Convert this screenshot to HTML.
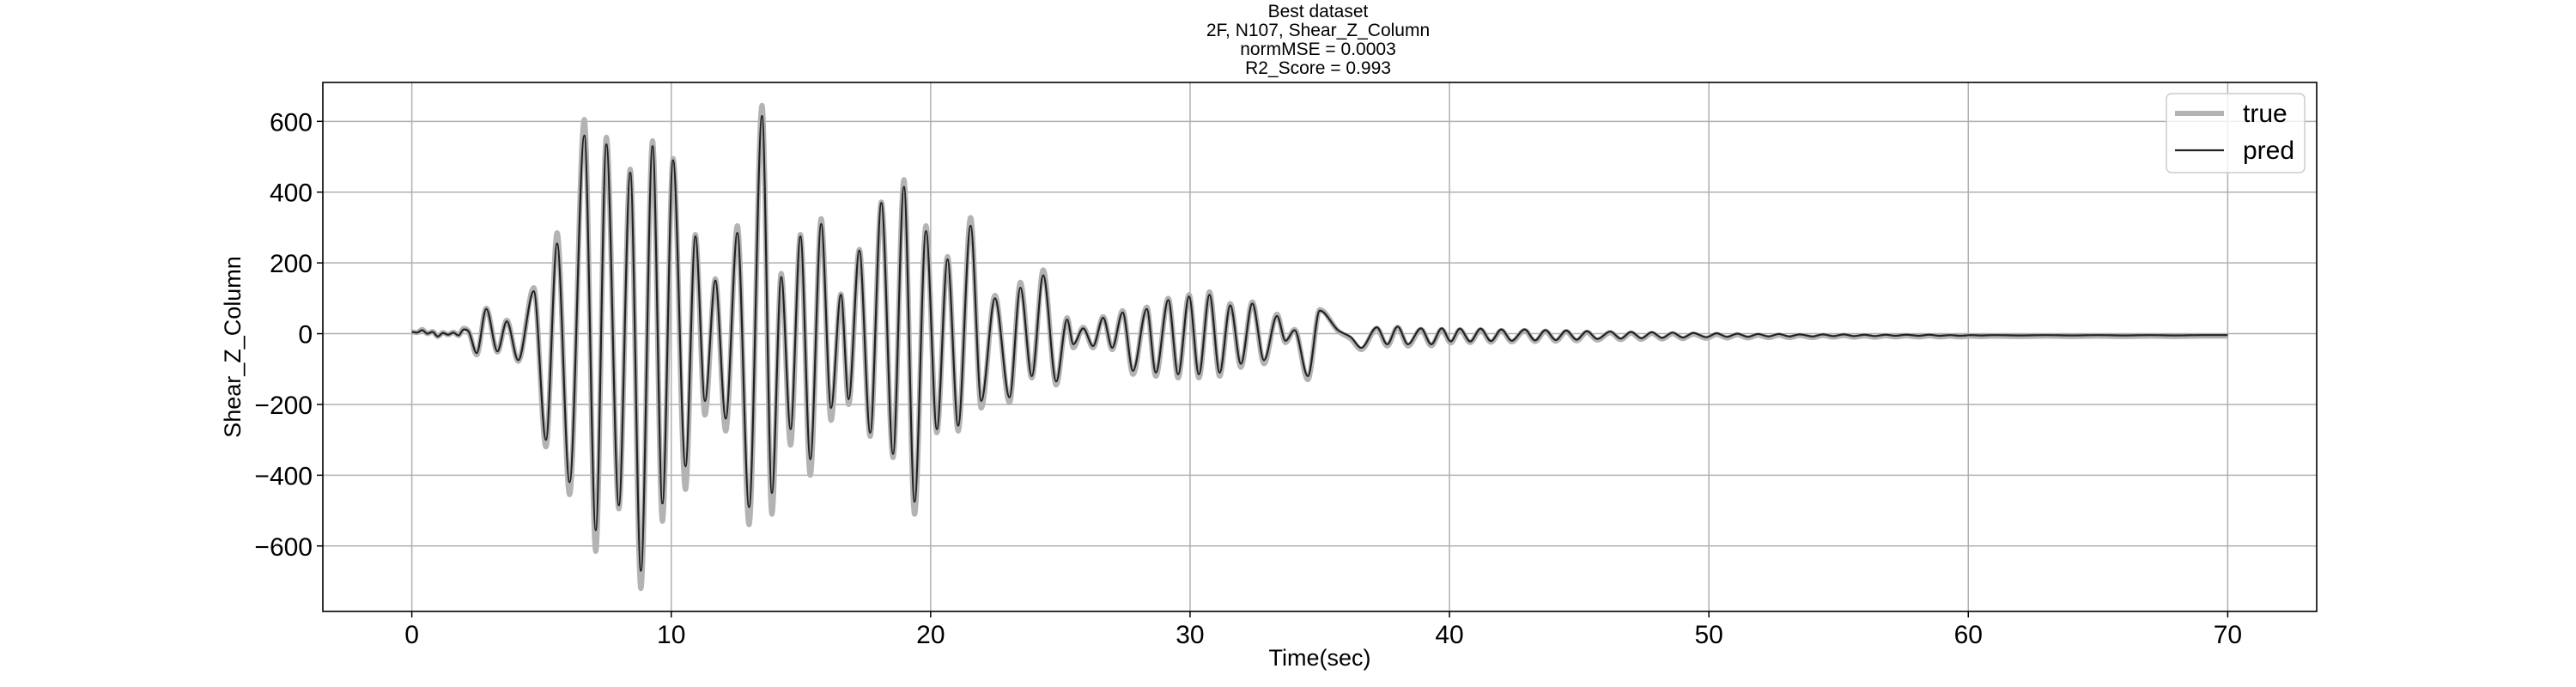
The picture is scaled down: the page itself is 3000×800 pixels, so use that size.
<!DOCTYPE html>
<html><head><meta charset="utf-8"><style>
html,body{margin:0;padding:0;background:#fff;}
svg{display:block;font-family:"Liberation Sans","DejaVu Sans",sans-serif;}
</style></head><body>
<svg id="chart" width="3000" height="800" viewBox="0 0 3000 800">
<g font-size="21" text-anchor="middle" fill="#000">
<text x="1535" y="20">Best dataset</text>
<text x="1535" y="42">2F, N107, Shear_Z_Column</text>
<text x="1535" y="64">normMSE = 0.0003</text>
<text x="1535" y="86">R2_Score = 0.993</text>
</g>
<g id="grid"></g>
<g id="series"></g>
<rect x="376" y="96" width="2322" height="616" fill="none" stroke="#000" stroke-width="1.6"/>
<g id="ticks"></g>
<text x="1537" y="775" font-size="27" text-anchor="middle">Time(sec)</text>
<text transform="translate(280,404) rotate(-90)" font-size="27" text-anchor="middle">Shear_Z_Column</text>
<g>
<rect x="2523" y="109" width="161" height="92" rx="6" fill="#fff" fill-opacity="0.8" stroke="#ccc" stroke-width="1.5"/>
<g>
<line x1="2533" y1="132" x2="2590" y2="132" stroke="#b3b3b3" stroke-width="6"/>
<text x="2612" y="142" font-size="30">true</text></g>
<g>
<line x1="2533" y1="175" x2="2590" y2="175" stroke="#222" stroke-width="2.2"/>
<text x="2612" y="185" font-size="30">pred</text></g>
</g>
</svg>
<script>
const times=[0,0.2,0.4,0.6,0.8,1.0,1.2,1.4,1.6,1.8,2.0,2.2,2.5,2.87,3.3,3.66,4.1,4.7,5.17,5.6,6.08,6.65,7.09,7.5,7.98,8.42,8.83,9.28,9.66,10.07,10.55,10.93,11.3,11.7,12.1,12.55,13.0,13.5,13.88,14.24,14.6,14.98,15.36,15.78,16.16,16.54,16.84,17.25,17.67,18.1,18.55,18.97,19.38,19.82,20.24,20.65,21.06,21.54,21.95,22.48,23.04,23.46,23.9,24.34,24.84,25.26,25.5,25.88,26.26,26.65,27.0,27.4,27.8,28.33,28.68,29.16,29.54,29.96,30.34,30.75,31.14,31.55,31.96,32.4,32.85,33.35,33.68,34.03,34.54,35.0,35.7,36.2,36.6,37.2,37.6,38.0,38.4,38.9,39.3,39.7,40.05,40.4,40.8,41.2,41.6,42.0,42.4,42.9,43.3,43.7,44.1,44.5,44.9,45.3,45.7,46.2,46.6,47.0,47.4,47.8,48.2,48.6,49.0,49.4,49.9,50.3,50.7,51.1,51.5,51.9,52.3,52.7,53.1,53.5,54.0,54.4,54.8,55.2,55.6,56.0,56.4,56.8,57.2,57.6,58.1,58.5,58.9,59.3,59.7,60.1,60.5,61,62,63,64,65,66,67,68,69,70];
const predVals=[5,3,10,0,5,-8,2,-3,3,-5,12,5,-55,70,-50,35,-75,120,-300,255,-420,560,-555,535,-485,455,-670,530,-480,490,-375,275,-190,150,-240,285,-490,615,-450,160,-270,275,-355,310,-210,110,-185,235,-280,370,-340,415,-475,290,-270,210,-260,305,-190,100,-180,130,-120,165,-135,40,-30,15,-35,45,-40,60,-105,70,-110,95,-115,105,-115,110,-110,80,-85,85,-75,50,-20,10,-120,65,10,-10,-40,18,-30,20,-30,15,-30,15,-22,14,-22,14,-21,12,-20,12,-19,10,-18,9,-17,7,-15,6,-14,5,-13,4,-12,3,-11,2,-10,1,-9,0,-9,-1,-8,-1,-8,-2,-8,-2,-7,-2,-7,-3,-7,-3,-6,-3,-6,-3,-6,-4,-6,-4,-5,-4,-5,-4,-5,-4,-5,-4,-5,-4,-4];
const trueVals=[5,3,12,0,6,-8,3,-3,4,-5,15,5,-60,72,-52,38,-78,130,-320,285,-455,605,-615,555,-495,465,-720,545,-530,495,-440,280,-230,155,-275,305,-540,645,-510,170,-315,280,-400,325,-245,112,-200,238,-290,372,-350,435,-510,305,-280,218,-275,328,-210,108,-195,145,-125,180,-145,45,-40,18,-40,48,-45,65,-115,75,-120,100,-125,110,-125,118,-120,85,-95,90,-85,55,-25,12,-130,68,8,-15,-45,15,-35,18,-35,12,-34,12,-26,11,-25,11,-24,9,-23,9,-22,7,-21,6,-20,4,-18,3,-17,2,-16,1,-15,0,-14,-1,-13,-2,-12,-3,-12,-4,-11,-4,-11,-5,-11,-5,-10,-5,-10,-6,-10,-6,-9,-6,-9,-6,-9,-7,-9,-7,-8,-7,-8,-7,-8,-7,-8,-7,-8,-7,-7];
const xTicks=[0,10,20,30,40,50,60,70];
const yTicks=[-600,-400,-200,0,200,400,600];

const X0=376,X1=2698,Y0=96,Y1=712;
const xMin=-3.43,xMax=73.43,yMin=-785,yMax=710;
const sx=t=>X0+(t-xMin)/(xMax-xMin)*(X1-X0);
const sy=v=>Y1-(v-yMin)/(yMax-yMin)*(Y1-Y0);
const NS='http://www.w3.org/2000/svg';
const grid=document.getElementById('grid'),ticks=document.getElementById('ticks'),series=document.getElementById('series');
function mk(tag,attrs,parent){const e=document.createElementNS(NS,tag);for(const k in attrs)e.setAttribute(k,attrs[k]);parent.appendChild(e);return e;}
xTicks.forEach(t=>{
  const l=mk('line',{x1:sx(t),x2:sx(t),y1:Y0,y2:Y1,stroke:'#b0b0b0','stroke-width':1.5},grid);
  
  
  mk('line',{x1:sx(t),x2:sx(t),y1:Y1,y2:Y1+7,stroke:'#000','stroke-width':1.5},ticks);
  const tx=mk('text',{x:sx(t),y:Y1+37,'font-size':30,'text-anchor':'middle'},ticks);
  tx.textContent=String(t);
  
  
});
yTicks.forEach(v=>{
  const l=mk('line',{x1:X0,x2:X1,y1:sy(v),y2:sy(v),stroke:'#b0b0b0','stroke-width':1.5},grid);
  
  
  mk('line',{x1:X0-7,x2:X0,y1:sy(v),y2:sy(v),stroke:'#000','stroke-width':1.5},ticks);
  const tx=mk('text',{x:X0-12,y:sy(v)+11,'font-size':30,'text-anchor':'end'},ticks);
  tx.textContent=(v<0?'\u2212'+(-v):String(v));
  
  
});
function monoPath(xs,ys){
  const n=Math.min(xs.length,ys.length),d=[],m=new Array(n);
  for(let i=0;i<n-1;i++)d.push((ys[i+1]-ys[i])/(xs[i+1]-xs[i]));
  m[0]=d[0];m[n-1]=d[n-2];
  for(let i=1;i<n-1;i++){m[i]=(d[i-1]*d[i]<=0)?0:(d[i-1]+d[i])/2;}
  let p='M'+xs[0].toFixed(2)+','+ys[0].toFixed(2);
  for(let i=0;i<n-1;i++){const h=xs[i+1]-xs[i];
    p+='C'+(xs[i]+h/3).toFixed(2)+','+(ys[i]+m[i]*h/3).toFixed(2)+' '+(xs[i+1]-h/3).toFixed(2)+','+(ys[i+1]-m[i+1]*h/3).toFixed(2)+' '+xs[i+1].toFixed(2)+','+ys[i+1].toFixed(2);}
  return p;
}
const px=times.map(sx);
const pt=mk('path',{d:monoPath(px,trueVals.map(sy)),fill:'none',stroke:'#b3b3b3','stroke-width':6,'stroke-linejoin':'round'},series);


const pp=mk('path',{d:monoPath(px,predVals.map(sy)),fill:'none',stroke:'#222','stroke-width':2.2,'stroke-linejoin':'round'},series);


</script>
</body></html>
